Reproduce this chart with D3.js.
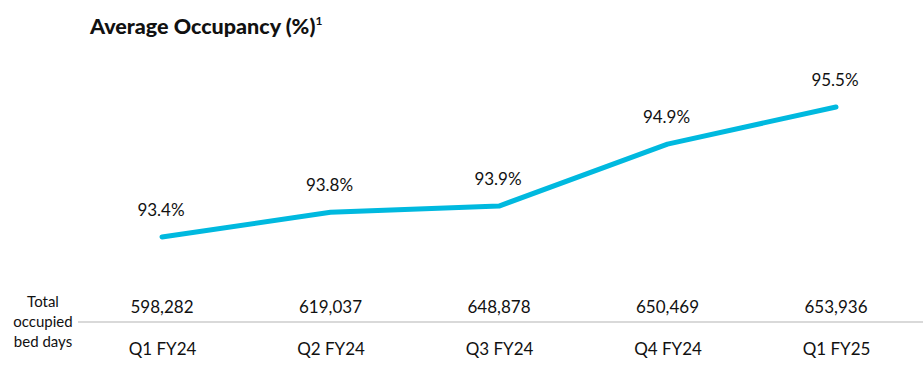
<!DOCTYPE html>
<html>
<head>
<meta charset="utf-8">
<script src="https://cdn.jsdelivr.net/npm/d3@7"></script>
<style>
  body { margin: 0; background: #fff; }
  svg { font-family: Lato, "Open Sans", sans-serif; }
</style>
</head>
<body>
<div id="chart"></div>
<script>
// chart values
let quarters = ['Q1 FY24', 'Q2 FY24', 'Q3 FY24', 'Q4 FY24', 'Q1 FY25'];
let occupancy = [93.4, 93.8, 93.9, 94.9, 95.5];
let bedDays = [598282, 619037, 648878, 650469, 653936];

let w = 923, h = 384;

let svg = d3.select('#chart').append('svg')
    .attr('width', w)
    .attr('height', h);

let x = d3.scalePoint().domain(quarters).range([162, 836]);
let y = d3.scaleLinear().domain([93.4, 95.5]).range([237, 107]);

// title
let title = svg.append('text')
    .attr('x', 90)
    .attr('y', 34)
    .attr('font-size', 21.5)
    .attr('font-weight', 900)
    .attr('fill', '#111')
    .text('Average Occupancy (%)');
title.append('tspan')
    .attr('font-size', 12)
    .attr('font-weight', 'bold')
    .attr('dy', -9)
    .text('1');

// line
let line = d3.line()
    .x((d, i) => x(quarters[i]))
    .y(d => y(d));

svg.append('path')
    .datum(occupancy)
    .attr('d', line)
    .attr('fill', 'none')
    .attr('stroke', '#00B9DF')
    .attr('stroke-width', 5)
    .attr('stroke-linecap', 'round')
    .attr('stroke-linejoin', 'round');

// value labels
svg.selectAll('.val').data(occupancy).enter()
    .append('text')
    .attr('class', 'val')
    .attr('x', (d, i) => x(quarters[i]) - 1)
    .attr('y', d => y(d) - 21)
    .attr('text-anchor', 'middle')
    .attr('font-size', 17)
    .attr('fill', '#111')
    .text(d => d.toFixed(1) + '%');

// separator line
svg.append('line')
    .attr('x1', 78).attr('x2', w)
    .attr('y1', 322).attr('y2', 322)
    .attr('stroke', '#d9d9d9')
    .attr('stroke-width', 2);

// bed days row
svg.selectAll('.days').data(bedDays).enter()
    .append('text')
    .attr('class', 'days')
    .attr('x', (d, i) => x(quarters[i]))
    .attr('y', 313)
    .attr('text-anchor', 'middle')
    .attr('font-size', 17)
    .attr('fill', '#111')
    .text(d => d3.format(',')(d));

// axis labels
let axis = d3.axisBottom(x).tickSize(0).tickPadding(0);
let ax = svg.append('g')
    .attr('transform', 'translate(0,343)')
    .call(axis);
ax.select('.domain').remove();
ax.selectAll('text')
    .attr('font-size', 17)
    .attr('font-family', 'Lato, "Open Sans", sans-serif')
    .attr('fill', '#111');

// row label
let rowLabel = ['Total', 'occupied', 'bed days'];
svg.selectAll('.rowlab').data(rowLabel).enter()
    .append('text')
    .attr('class', 'rowlab')
    .attr('x', 43)
    .attr('y', (d, i) => 307 + i * 20)
    .attr('text-anchor', 'middle')
    .attr('font-size', 15)
    .attr('fill', '#111')
    .text(d => d);
</script>
</body>
</html>
